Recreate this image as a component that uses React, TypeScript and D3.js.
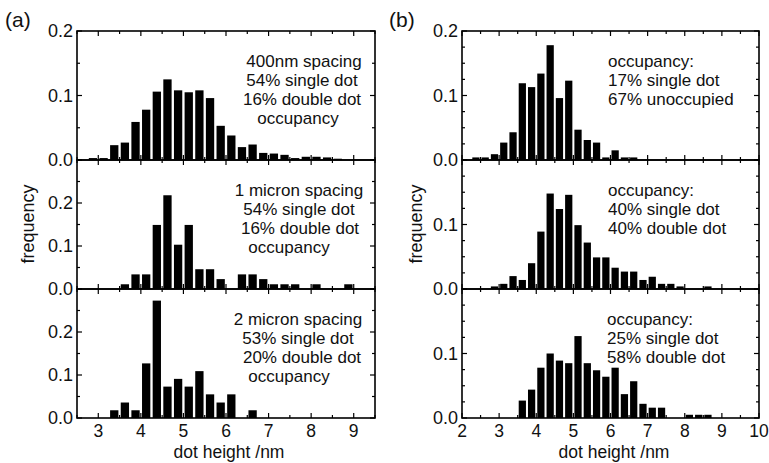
import React from 'react';
import * as d3 from 'd3';

const BIN = 0.25;

// panel (a)
const aTopStart = 2.75;
const aTopValues = [0.003, 0.003, 0.023, 0.027, 0.059, 0.078, 0.106, 0.125, 0.108, 0.105, 0.108, 0.096, 0.053, 0.038, 0.020, 0.024, 0.011, 0.010, 0.008, 0.003, 0.005, 0.005, 0.004, 0.002];
const aMidStart = 2.75;
const aMidValues = [0, 0, 0, 0.011, 0.034, 0.034, 0.149, 0.218, 0.103, 0.149, 0.046, 0.046, 0.023, 0, 0.034, 0.034, 0.023, 0.011, 0.011, 0.011, 0, 0.011, 0, 0, 0.011];
const aBotStart = 3.25;
const aBotValues = [0.018, 0.036, 0.018, 0.127, 0.273, 0.073, 0.091, 0.073, 0.109, 0.055, 0.036, 0.055, 0, 0.018];

// panel (b)
const bTopStart = 2.25;
const bTopValues = [0.004, 0.004, 0.009, 0.027, 0.043, 0.119, 0.113, 0.134, 0.178, 0.096, 0.123, 0.047, 0.031, 0.027, 0.004, 0.015, 0.004, 0.004];
const bMidStart = 2.75;
const bMidValues = [0.004, 0.008, 0.02, 0.014, 0.04, 0.089, 0.148, 0.124, 0.146, 0.099, 0.072, 0.049, 0.049, 0.033, 0.027, 0.027, 0.014, 0.019, 0.008, 0.008, 0.004, 0, 0, 0.004];
const bBotStart = 3.5;
const bBotValues = [0.027, 0.044, 0.078, 0.1, 0.089, 0.085, 0.127, 0.085, 0.074, 0.064, 0.078, 0.037, 0.057, 0.022, 0.016, 0.016, 0, 0, 0.005, 0.005, 0.005];

const aXDomain: [number, number] = [2.5, 9.5];
const bXDomain: [number, number] = [2, 10];
const aXTicks = [3, 4, 5, 6, 7, 8, 9];
const bXTicks = [2, 3, 4, 5, 6, 7, 8, 9, 10];

const aTopText = ['400nm spacing', '54% single dot', '16% double dot', 'occupancy'];
const aMidText = ['1 micron spacing', '54% single dot', '16% double dot', 'occupancy'];
const aBotText = ['2 micron spacing', '53% single dot', '20% double dot', 'occupancy'];
const bTopText = ['occupancy:', '17% single dot', '67% unoccupied'];
const bMidText = ['occupancy:', '40% single dot', '40% double dot'];
const bBotText = ['occupancy:', '25% single dot', '58% double dot'];

const FONT = '"Liberation Sans", Arial, Helvetica, sans-serif';
const FS = 18;
const TFS = 17.5;
const NFS = 17;

const ROWS = [31, 160, 289, 418];

type PanelProps = {
  left: number; right: number; top: number; bottom: number;
  xDomain: [number, number]; yMax: number;
  start: number; values: number[];
  xTicks: number[]; xMinorStep: number;
  yMinorStep: number; yLabels: number[];
  showXLabels: boolean;
  lines: string[]; textX: number[]; anchor: 'middle' | 'start';
};

function Panel(p: PanelProps) {
  const x = d3.scaleLinear().domain(p.xDomain).range([p.left, p.right]);
  const y = d3.scaleLinear().domain([0, p.yMax]).range([p.bottom, p.top]);
  const binPx = x(p.start + BIN) - x(p.start);
  const pad = binPx * 0.11;
  const majorLen = 5, minorLen = 3;
  const xMinor = d3.range(p.xDomain[0], p.xDomain[1] + 1e-9, p.xMinorStep).filter(v => !p.xTicks.some(t => Math.abs(t - v) < 1e-6));
  const yMajor = d3.range(0, p.yMax + 1e-9, 0.1);
  const yMinor = d3.range(0, p.yMax + 1e-9, p.yMinorStep).filter(v => !yMajor.some(t => Math.abs(t - v) < 1e-6));
  const tickLines: JSX.Element[] = [];
  let k = 0;
  const addX = (v: number, len: number) => {
    const xx = x(v);
    tickLines.push(<line key={'t' + k++} x1={xx} x2={xx} y1={p.top} y2={p.top + len} />);
    tickLines.push(<line key={'t' + k++} x1={xx} x2={xx} y1={p.bottom} y2={p.bottom - len} />);
  };
  const addY = (v: number, len: number) => {
    const yy = y(v);
    tickLines.push(<line key={'t' + k++} x1={p.left} x2={p.left + len} y1={yy} y2={yy} />);
    tickLines.push(<line key={'t' + k++} x1={p.right} x2={p.right - len} y1={yy} y2={yy} />);
  };
  p.xTicks.forEach(v => addX(v, majorLen));
  xMinor.forEach(v => addX(v, minorLen));
  yMajor.forEach(v => addY(v, majorLen));
  yMinor.forEach(v => addY(v, minorLen));

  return (
    <g>
      {p.values.map((v, i) => {
        if (v <= 0) return null;
        const x0 = x(p.start + i * BIN);
        return <rect key={i} x={x0 + pad} width={binPx - 2 * pad} y={y(v)} height={y(0) - y(v)} fill="#000" />;
      })}
      <g stroke="#000" strokeWidth={1.2}>{tickLines}</g>
      <rect x={p.left} y={p.top} width={p.right - p.left} height={p.bottom - p.top} fill="none" stroke="#000" strokeWidth={1.6} />
      {p.yLabels.map(v => (
        <text key={'yl' + v} x={p.left - 4} y={y(v)} dy="0.36em" textAnchor="end" fontSize={FS} fontFamily={FONT} fill="#111">{v.toFixed(1)}</text>
      ))}
      {p.showXLabels && p.xTicks.map(v => (
        <text key={'xl' + v} x={x(v)} y={p.bottom + 19} textAnchor="middle" fontSize={TFS} fontFamily={FONT} fill="#111">{v}</text>
      ))}
      {p.lines.map((s, i) => (
        <text key={'ln' + i} x={p.textX[i]} y={p.top + 36 + i * 19} textAnchor={p.anchor} fontSize={NFS} fontFamily={FONT} fill="#111">{s}</text>
      ))}
    </g>
  );
}

export default function App() {
  const aL = 77, aR = 375, bL = 462, bR = 759;
  return (
    <svg width={769} height={463} style={{ position: 'absolute', left: 0, top: 0, background: '#fff' }}>
      <rect width={769} height={463} fill="#fff" />
      <Panel left={aL} right={aR} top={ROWS[0]} bottom={ROWS[1]} xDomain={aXDomain} yMax={0.2}
        start={aTopStart} values={aTopValues} xTicks={aXTicks} xMinorStep={0.5} yMinorStep={0.05}
        yLabels={[0, 0.1, 0.2]} showXLabels={false} lines={aTopText} textX={[304, 302, 302, 298]} anchor="middle" />
      <Panel left={aL} right={aR} top={ROWS[1]} bottom={ROWS[2]} xDomain={aXDomain} yMax={0.3}
        start={aMidStart} values={aMidValues} xTicks={aXTicks} xMinorStep={0.5} yMinorStep={0.05}
        yLabels={[0, 0.1, 0.2]} showXLabels={false} lines={aMidText} textX={[299, 299, 300, 289]} anchor="middle" />
      <Panel left={aL} right={aR} top={ROWS[2]} bottom={ROWS[3]} xDomain={aXDomain} yMax={0.3}
        start={aBotStart} values={aBotValues} xTicks={aXTicks} xMinorStep={0.5} yMinorStep={0.05}
        yLabels={[0, 0.1, 0.2]} showXLabels={true} lines={aBotText} textX={[298, 298, 302, 289]} anchor="middle" />

      <Panel left={bL} right={bR} top={ROWS[0]} bottom={ROWS[1]} xDomain={bXDomain} yMax={0.2}
        start={bTopStart} values={bTopValues} xTicks={bXTicks} xMinorStep={0.5} yMinorStep={0.025}
        yLabels={[0, 0.1, 0.2]} showXLabels={false} lines={bTopText} textX={[608, 608, 608]} anchor="start" />
      <Panel left={bL} right={bR} top={ROWS[1]} bottom={ROWS[2]} xDomain={bXDomain} yMax={0.2}
        start={bMidStart} values={bMidValues} xTicks={bXTicks} xMinorStep={0.5} yMinorStep={0.025}
        yLabels={[0, 0.1]} showXLabels={false} lines={bMidText} textX={[608, 608, 608]} anchor="start" />
      <Panel left={bL} right={bR} top={ROWS[2]} bottom={ROWS[3]} xDomain={bXDomain} yMax={0.2}
        start={bBotStart} values={bBotValues} xTicks={bXTicks} xMinorStep={0.5} yMinorStep={0.025}
        yLabels={[0, 0.1]} showXLabels={true} lines={bBotText} textX={[607, 607, 607]} anchor="start" />

      <text x={5} y={27} fontSize={21} fontFamily={FONT} fill="#111">(a)</text>
      <text x={389} y={27} fontSize={21} fontFamily={FONT} fill="#111">(b)</text>
      <text transform="translate(34,224) rotate(-90)" textAnchor="middle" fontSize={FS} fontFamily={FONT} fill="#111">frequency</text>
      <text transform="translate(422,224) rotate(-90)" textAnchor="middle" fontSize={FS} fontFamily={FONT} fill="#111">frequency</text>
      <text x={229} y={458} textAnchor="middle" fontSize={TFS} fontFamily={FONT} fill="#111">dot height /nm</text>
      <text x={614} y={458} textAnchor="middle" fontSize={TFS} fontFamily={FONT} fill="#111">dot height /nm</text>
    </svg>
  );
}
